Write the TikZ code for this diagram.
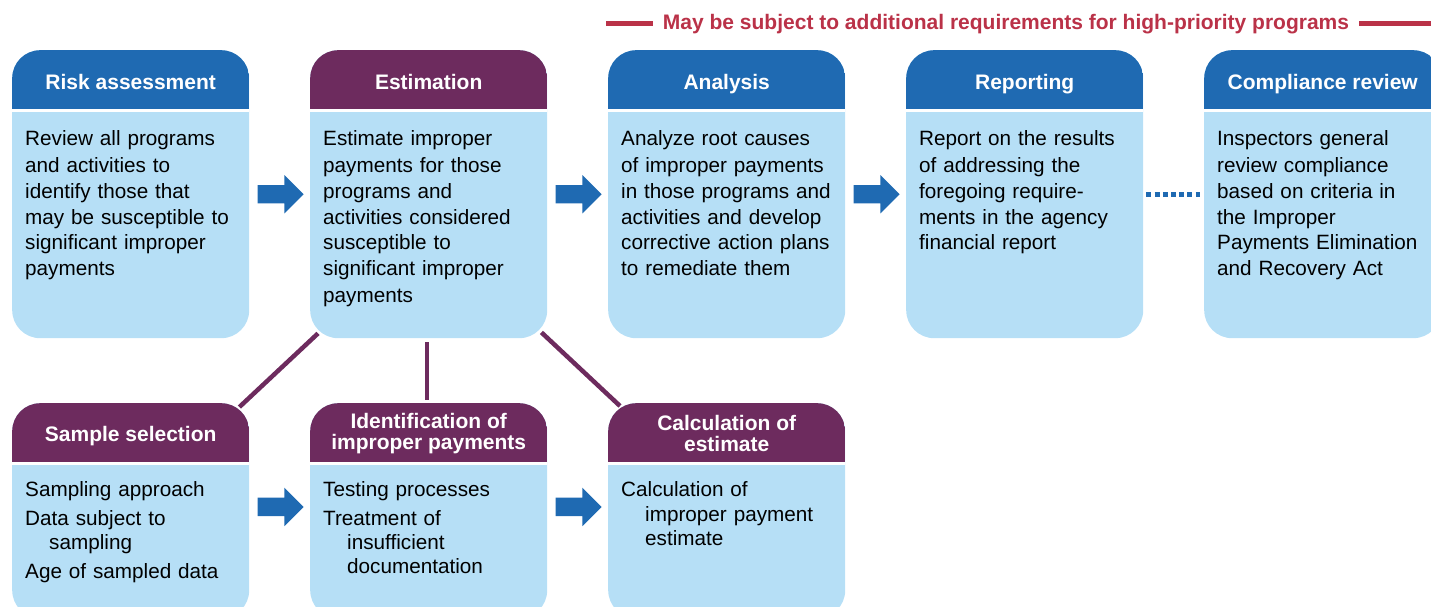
\documentclass[tikz,border=0pt]{standalone}
\usepackage{fontspec}
\setmainfont{Liberation Sans}
\usetikzlibrary{calc,positioning,shapes.arrows}

\definecolor{headblue}{RGB}{31,106,178}
\definecolor{headpurple}{RGB}{109,43,94}
\definecolor{paleblue}{RGB}{182,223,246}
\definecolor{bannerred}{RGB}{186,50,72}

\newcommand{\stepitem}{\hangindent=24pt\hangafter=1\relax}

\begin{document}
\begin{tikzpicture}[x=1pt,y=-1pt,
    card/.style={anchor=north west, inner sep=0pt, minimum width=237pt,
      rounded corners=28pt, fill=paleblue,
      path picture={
        \fill[#1, sharp corners] (path picture bounding box.north west)
          rectangle ([yshift=-59pt]path picture bounding box.north east);
        \fill[white, sharp corners] ([yshift=-59pt]path picture bounding box.north west)
          rectangle ([yshift=-61.5pt]path picture bounding box.north east);
      }},
    toprow/.style={minimum height=288pt},
    lowrow/.style={minimum height=215pt},
    headtxt/.style={text=white, inner sep=0pt, align=center, anchor=base,
      font=\bfseries\fontsize{21}{21}\selectfont},
    headtwo/.style={headtxt, anchor=center},
    bodytxt/.style={anchor=base west, inner sep=0pt, text width=228pt, align=left,
      font=\fontsize{20.7}{26}\selectfont},
    lowtxt/.style={anchor=base west, inner sep=0pt, text width=228pt,
      font=\fontsize{20.7}{24.3}\selectfont,
      execute at begin node={\setlength{\parskip}{4.3pt}}},
    flowarrow/.style={single arrow, fill=headblue, inner sep=9pt, anchor=tail,
      minimum height=46pt, single arrow head extend=10pt},
    dotlink/.style={headblue, line width=5pt, dash pattern=on 5pt off 3.2pt,
      shorten <=3pt, shorten >=4pt},
    link/.style={headpurple, line width=4.5pt},
    banner/.style={anchor=base, inner xsep=10pt, text=bannerred,
      font=\bfseries\fontsize{21}{22}\selectfont},
    bannerline/.style={bannerred, line width=5pt}
  ]
  \useasboundingbox (0,0) rectangle (1431,607);
  \clip (0,0) rectangle (1431,607);

  % banner
  \node[banner] (banner) at (1006,29.3) {May be subject to additional requirements for high-priority programs};
  \coordinate (bannerl) at (606,23.5);
  \coordinate (bannerr) at (1431,23.5);
  \draw[bannerline] (bannerl) -- (bannerl -| banner.west);
  \draw[bannerline] (banner.east |- bannerr) -- (bannerr);

  % top row
  \node[card=headblue, toprow] (risk) at (12,50) {};
  \node[card=headpurple, toprow] (est) at (310,50) {};
  \node[card=headblue, toprow] (analysis) at (608,50) {};
  \node[card=headblue, toprow] (report) at (906,50) {};
  \node[card=headblue, toprow] (comply) at (1204,50) {};

  \node[headtxt] (riskhd) at ([yshift=-39.5pt]risk.north) {Risk assessment};
  \node[headtxt] (esthd) at ([yshift=-39.5pt]est.north) {Estimation};
  \node[headtxt] (analysishd) at ([yshift=-39.5pt]analysis.north) {Analysis};
  \node[headtxt] (reporthd) at ([yshift=-39.5pt]report.north) {Reporting};
  \node[headtxt] (complyhd) at ([yshift=-39.5pt]comply.north) {Compliance review};

  \node[bodytxt] (risktxt) at ([xshift=13pt,yshift=-96pt]risk.north west)
    {Review all programs\\and activities to\\identify those that\\may be susceptible to\\significant improper\\payments};
  \node[bodytxt] (esttxt) at ([xshift=13pt,yshift=-96pt]est.north west)
    {Estimate improper\\payments for those\\programs and\\activities considered\\susceptible to\\significant improper\\payments};
  \node[bodytxt] (analysistxt) at ([xshift=13pt,yshift=-96pt]analysis.north west)
    {Analyze root causes\\of improper payments\\in those programs and\\activities and develop\\corrective action plans\\to remediate them};
  \node[bodytxt] (reporttxt) at ([xshift=13pt,yshift=-96pt]report.north west)
    {Report on the results\\of addressing the\\foregoing require-\\ments in the agency\\financial report};
  \node[bodytxt] (complytxt) at ([xshift=13pt,yshift=-96pt]comply.north west)
    {Inspectors general\\review compliance\\based on criteria in\\the Improper\\Payments Elimination\\and Recovery Act};

  % bottom row
  \node[card=headpurple, lowrow] (sample) at (12,403) {};
  \node[card=headpurple, lowrow] (ident) at (310,403) {};
  \node[card=headpurple, lowrow] (calcest) at (608,403) {};

  \node[headtxt] (samplehd) at ([yshift=-38.5pt]sample.north) {Sample selection};
  \node[headtwo] (identhd) at ([yshift=-30.2pt]ident.north) {Identification of\\improper payments};
  \node[headtwo] (calcesthd) at ([yshift=-30.5pt]calcest.north) {Calculation of\\estimate};

  \node[lowtxt] (sampletxt) at ([xshift=13pt,yshift=-93.7pt]sample.north west)
    {\stepitem Sampling approach\par
     \stepitem Data subject to\newline sampling\par
     \stepitem Age of sampled data\par};
  \node[lowtxt] (identtxt) at ([xshift=13pt,yshift=-93.7pt]ident.north west)
    {\stepitem Testing processes\par
     \stepitem Treatment of\newline insufficient\newline documentation\par};
  \node[lowtxt] (calcesttxt) at ([xshift=13pt,yshift=-93.7pt]calcest.north west)
    {\stepitem Calculation of\newline improper payment\newline estimate\par};

  % arrows
  \node[flowarrow] (arr1) at ([xshift=8pt]risk.east) {};
  \node[flowarrow] (arr2) at ([xshift=8pt]est.east) {};
  \node[flowarrow] (arr3) at ([xshift=8pt]analysis.east) {};
  \node[flowarrow] (arr4) at ([xshift=8pt,yshift=3.8pt]sample.east) {};
  \node[flowarrow] (arr5) at ([xshift=8pt,yshift=3.8pt]ident.east) {};
  \draw[dotlink] (report) -- (comply);

  % links from estimation
  \draw[link] ([xshift=8pt,yshift=5pt]est.south west) -- ([xshift=-10pt,yshift=-4pt]sample.north east);
  \draw[link] ([xshift=-1.5pt,yshift=-4pt]est.south) -- ([xshift=-1.5pt,yshift=3pt]ident.north);
  \draw[link] ([xshift=-6pt,yshift=6pt]est.south east) -- ([xshift=12pt,yshift=-3pt]calcest.north west);
\end{tikzpicture}
\end{document}
